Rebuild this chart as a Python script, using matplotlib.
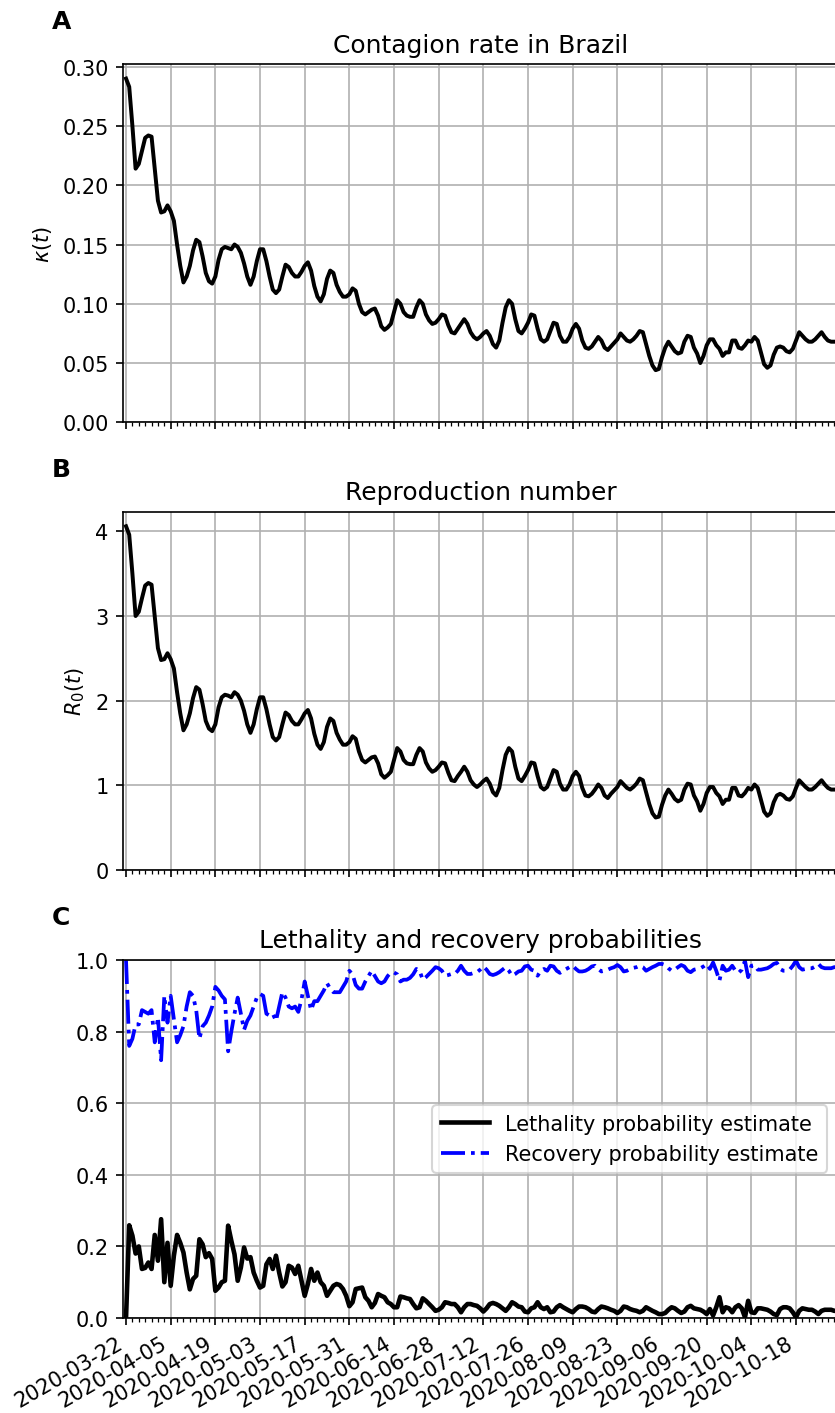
import matplotlib
matplotlib.use("Agg")
import matplotlib.pyplot as plt
import matplotlib.dates as mdates
import pandas as pd

# Daily estimates, starting 2020-03-22
start_date = "2020-03-22"

kappa = [
    0.290, 0.283, 0.250, 0.214, 0.218, 0.229, 0.240, 0.242, 0.241, 0.214,
    0.187, 0.177, 0.178, 0.183, 0.178, 0.170, 0.150, 0.132, 0.118, 0.123,
    0.132, 0.145, 0.154, 0.152, 0.140, 0.126, 0.119, 0.117, 0.123, 0.137,
    0.146, 0.148, 0.147, 0.146, 0.150, 0.148, 0.143, 0.134, 0.123, 0.116,
    0.123, 0.136, 0.146, 0.146, 0.136, 0.123, 0.112, 0.109, 0.112, 0.123,
    0.133, 0.131, 0.126, 0.123, 0.123, 0.127, 0.132, 0.135, 0.128, 0.115,
    0.106, 0.102, 0.108, 0.121, 0.128, 0.126, 0.116, 0.110, 0.106, 0.106,
    0.108, 0.113, 0.111, 0.100, 0.093, 0.091, 0.093, 0.095, 0.096, 0.090,
    0.081, 0.078, 0.080, 0.083, 0.093, 0.103, 0.100, 0.093, 0.090, 0.089,
    0.089, 0.097, 0.103, 0.100, 0.091, 0.086, 0.083, 0.084, 0.087, 0.091,
    0.090, 0.082, 0.076, 0.075, 0.079, 0.083, 0.087, 0.083, 0.076, 0.072,
    0.070, 0.072, 0.075, 0.077, 0.073, 0.066, 0.063, 0.069, 0.084, 0.097,
    0.103, 0.100, 0.087, 0.077, 0.075, 0.079, 0.084, 0.091, 0.090, 0.079,
    0.070, 0.068, 0.070, 0.077, 0.084, 0.083, 0.073, 0.068, 0.068, 0.072,
    0.079, 0.083, 0.079, 0.069, 0.063, 0.062, 0.064, 0.068, 0.072, 0.069,
    0.063, 0.061, 0.064, 0.067, 0.070, 0.075, 0.072, 0.069, 0.068, 0.070,
    0.073, 0.077, 0.076, 0.066, 0.056, 0.048, 0.044, 0.045, 0.055, 0.063,
    0.068, 0.064, 0.060, 0.058, 0.059, 0.068, 0.073, 0.072, 0.063, 0.058,
    0.050, 0.056, 0.065, 0.070, 0.070, 0.065, 0.062, 0.056, 0.059, 0.059,
    0.069, 0.069, 0.063, 0.062, 0.065, 0.069, 0.068, 0.072, 0.069, 0.059,
    0.049, 0.046, 0.048, 0.057, 0.063, 0.064, 0.063, 0.060, 0.059, 0.062,
    0.069, 0.076, 0.073, 0.070, 0.068, 0.068, 0.070, 0.073, 0.076, 0.072,
    0.069, 0.068, 0.068, 0.068,
]

r0 = [
    4.06, 3.96, 3.50, 3.00, 3.05, 3.21, 3.36, 3.39, 3.37, 3.00,
    2.62, 2.48, 2.49, 2.56, 2.49, 2.38, 2.10, 1.85, 1.65, 1.72,
    1.85, 2.03, 2.16, 2.13, 1.96, 1.76, 1.67, 1.64, 1.72, 1.92,
    2.04, 2.07, 2.06, 2.04, 2.10, 2.07, 2.00, 1.88, 1.72, 1.62,
    1.72, 1.90, 2.04, 2.04, 1.90, 1.72, 1.57, 1.53, 1.57, 1.72,
    1.86, 1.83, 1.76, 1.72, 1.72, 1.78, 1.85, 1.89, 1.79, 1.61,
    1.48, 1.43, 1.51, 1.69, 1.79, 1.76, 1.62, 1.54, 1.48, 1.48,
    1.51, 1.58, 1.55, 1.40, 1.30, 1.27, 1.30, 1.33, 1.34, 1.26,
    1.13, 1.09, 1.12, 1.16, 1.30, 1.44, 1.40, 1.30, 1.26, 1.25,
    1.25, 1.36, 1.44, 1.40, 1.27, 1.20, 1.16, 1.18, 1.22, 1.27,
    1.26, 1.15, 1.06, 1.05, 1.11, 1.16, 1.22, 1.16, 1.06, 1.01,
    0.98, 1.01, 1.05, 1.08, 1.02, 0.92, 0.88, 0.97, 1.18, 1.36,
    1.44, 1.40, 1.22, 1.08, 1.05, 1.11, 1.18, 1.27, 1.26, 1.11,
    0.98, 0.95, 0.98, 1.08, 1.18, 1.16, 1.02, 0.95, 0.95, 1.01,
    1.11, 1.16, 1.11, 0.97, 0.88, 0.87, 0.90, 0.95, 1.01, 0.97,
    0.88, 0.85, 0.90, 0.94, 0.98, 1.05, 1.01, 0.97, 0.95, 0.98,
    1.02, 1.08, 1.06, 0.92, 0.78, 0.67, 0.62, 0.63, 0.77, 0.88,
    0.95, 0.90, 0.84, 0.81, 0.83, 0.95, 1.02, 1.01, 0.88, 0.81,
    0.70, 0.78, 0.91, 0.98, 0.98, 0.91, 0.87, 0.78, 0.83, 0.83,
    0.97, 0.97, 0.88, 0.87, 0.91, 0.97, 0.95, 1.01, 0.97, 0.83,
    0.69, 0.64, 0.67, 0.80, 0.88, 0.90, 0.88, 0.84, 0.83, 0.87,
    0.97, 1.06, 1.02, 0.98, 0.95, 0.95, 0.98, 1.02, 1.06, 1.01,
    0.97, 0.95, 0.95, 0.95,
]

lethality = [
    0.000, 0.259, 0.230, 0.180, 0.200, 0.137, 0.140, 0.155, 0.137, 0.232,
    0.160, 0.276, 0.100, 0.210, 0.090, 0.174, 0.232, 0.210, 0.183, 0.127,
    0.080, 0.109, 0.118, 0.220, 0.206, 0.170, 0.181, 0.165, 0.076, 0.085,
    0.100, 0.104, 0.258, 0.216, 0.178, 0.104, 0.141, 0.197, 0.166, 0.170,
    0.127, 0.104, 0.085, 0.090, 0.150, 0.165, 0.137, 0.174, 0.127, 0.088,
    0.100, 0.146, 0.141, 0.123, 0.146, 0.104, 0.062, 0.095, 0.137, 0.104,
    0.127, 0.100, 0.090, 0.062, 0.076, 0.090, 0.095, 0.092, 0.081, 0.062,
    0.033, 0.044, 0.081, 0.083, 0.085, 0.058, 0.048, 0.030, 0.042, 0.067,
    0.062, 0.058, 0.044, 0.039, 0.030, 0.030, 0.060, 0.058, 0.055, 0.053,
    0.039, 0.027, 0.030, 0.055, 0.048, 0.039, 0.030, 0.020, 0.023, 0.030,
    0.044, 0.042, 0.039, 0.039, 0.030, 0.016, 0.030, 0.039, 0.039, 0.036,
    0.034, 0.027, 0.018, 0.027, 0.039, 0.042, 0.039, 0.034, 0.027, 0.020,
    0.030, 0.044, 0.039, 0.032, 0.030, 0.018, 0.016, 0.027, 0.030, 0.044,
    0.030, 0.025, 0.030, 0.016, 0.018, 0.030, 0.036, 0.030, 0.025, 0.020,
    0.016, 0.025, 0.032, 0.032, 0.030, 0.025, 0.018, 0.016, 0.025, 0.032,
    0.030, 0.027, 0.023, 0.020, 0.014, 0.020, 0.032, 0.030, 0.025, 0.022,
    0.020, 0.016, 0.020, 0.030, 0.025, 0.020, 0.016, 0.011, 0.011, 0.014,
    0.023, 0.030, 0.027, 0.020, 0.014, 0.018, 0.030, 0.034, 0.027, 0.025,
    0.023, 0.018, 0.011, 0.025, 0.007, 0.030, 0.058, 0.016, 0.030, 0.027,
    0.016, 0.030, 0.036, 0.027, 0.002, 0.048, 0.016, 0.014, 0.027, 0.027,
    0.025, 0.023, 0.018, 0.011, 0.008, 0.025, 0.030, 0.030, 0.027, 0.016,
    0.002, 0.020, 0.027, 0.025, 0.023, 0.023, 0.018, 0.011, 0.020, 0.023,
    0.023, 0.023, 0.020, 0.020,
]

recovery = [
    1.000, 0.760, 0.780, 0.820, 0.820, 0.860, 0.855, 0.850, 0.860, 0.770,
    0.840, 0.720, 0.900, 0.825, 0.900, 0.835, 0.770, 0.790, 0.815, 0.870,
    0.910, 0.900, 0.860, 0.780, 0.815, 0.825, 0.845, 0.870, 0.925, 0.915,
    0.900, 0.890, 0.745, 0.800, 0.850, 0.895, 0.850, 0.805, 0.830, 0.845,
    0.870, 0.895, 0.905, 0.900, 0.850, 0.845, 0.850, 0.830, 0.870, 0.910,
    0.895, 0.870, 0.865, 0.870, 0.855, 0.890, 0.940, 0.900, 0.860, 0.885,
    0.885, 0.900, 0.915, 0.935, 0.920, 0.910, 0.910, 0.910, 0.925, 0.940,
    0.970, 0.960, 0.930, 0.920, 0.920, 0.940, 0.955, 0.970, 0.955, 0.940,
    0.935, 0.940, 0.955, 0.965, 0.965, 0.960, 0.940, 0.945, 0.945, 0.950,
    0.960, 0.975, 0.970, 0.945, 0.952, 0.961, 0.970, 0.980, 0.977, 0.970,
    0.956, 0.958, 0.961, 0.961, 0.970, 0.984, 0.970, 0.961, 0.961, 0.964,
    0.966, 0.973, 0.982, 0.973, 0.961, 0.958, 0.961, 0.966, 0.973, 0.980,
    0.970, 0.956, 0.961, 0.968, 0.970, 0.982, 0.984, 0.973, 0.970, 0.956,
    0.970, 0.975, 0.970, 0.984, 0.982, 0.970, 0.964, 0.970, 0.975, 0.980,
    0.984, 0.975, 0.968, 0.968, 0.970, 0.975, 0.982, 0.984, 0.975, 0.968,
    0.970, 0.973, 0.977, 0.980, 0.986, 0.980, 0.968, 0.970, 0.975, 0.978,
    0.980, 0.984, 0.980, 0.970, 0.975, 0.980, 0.984, 0.989, 0.989, 0.986,
    0.977, 0.970, 0.973, 0.980, 0.986, 0.982, 0.970, 0.966, 0.973, 0.975,
    0.977, 0.982, 0.989, 0.975, 0.993, 0.970, 0.942, 0.984, 0.970, 0.973,
    0.984, 0.970, 0.964, 0.973, 0.998, 0.952, 0.984, 0.986, 0.973, 0.973,
    0.975, 0.977, 0.982, 0.989, 0.992, 0.975, 0.970, 0.970, 0.973, 0.984,
    0.998, 0.980, 0.973, 0.975, 0.977, 0.977, 0.982, 0.989, 0.980, 0.977,
    0.977, 0.977, 0.980, 0.980,
]

dates = pd.date_range(start_date, periods=len(kappa), freq="D")
tick_dates = pd.date_range(start_date, "2020-10-31", freq="14D")
x_left = pd.Timestamp("2020-03-21 03:30")
x_right = pd.Timestamp("2020-10-31")

W, H, DPI = 835, 1414, 150
fig = plt.figure(figsize=(W / DPI, H / DPI), dpi=DPI)


def panel_rect(top, bottom, left=123.3, right=837.5):
    return [left / W, 1 - bottom / H, (right - left) / W, (bottom - top) / H]


ax_a = fig.add_axes(panel_rect(65, 423.3))
ax_b = fig.add_axes(panel_rect(512.7, 871), sharex=ax_a)
ax_c = fig.add_axes(panel_rect(961, 1319), sharex=ax_a)

ax_a.plot(dates, kappa, color="k", lw=1.9)
ax_a.set_ylim(bottom=0)
ax_a.set_ylabel(r"$\kappa(t)$")
ax_a.set_title("Contagion rate in Brazil")

ax_b.plot(dates, r0, color="k", lw=1.9)
ax_b.set_ylim(bottom=0)
ax_b.set_ylabel(r"$R_0(t)$")
ax_b.set_title("Reproduction number")

ax_c.plot(dates, lethality, color="k", lw=2.2, label="Lethality probability estimate")
ax_c.plot(dates, recovery, color="b", ls="-.", lw=1.8, label="Recovery probability estimate")
ax_c.set_ylim(0, 1)
ax_c.set_title("Lethality and recovery probabilities")
ax_c.legend(loc="center right", handlelength=2.3)

for ax in (ax_a, ax_b, ax_c):
    ax.set_xticks(tick_dates)
    ax.xaxis.set_minor_locator(mdates.DayLocator(interval=2))
    ax.xaxis.set_major_formatter(mdates.DateFormatter("%Y-%m-%d"))
    ax.set_xlim(x_left, x_right)
    ax.grid(True)

for ax in (ax_a, ax_b):
    plt.setp(ax.get_xticklabels(), visible=False)
for lbl in ax_c.get_xticklabels():
    lbl.set_rotation(30)
    lbl.set_ha("right")

for letter, top in (("A", 65), ("B", 512.7), ("C", 961)):
    fig.text(52 / W, 1 - (top - 36) / H, letter, fontsize=12,
             fontweight="bold", va="baseline", ha="left")

fig.savefig("out.png", dpi=DPI)
